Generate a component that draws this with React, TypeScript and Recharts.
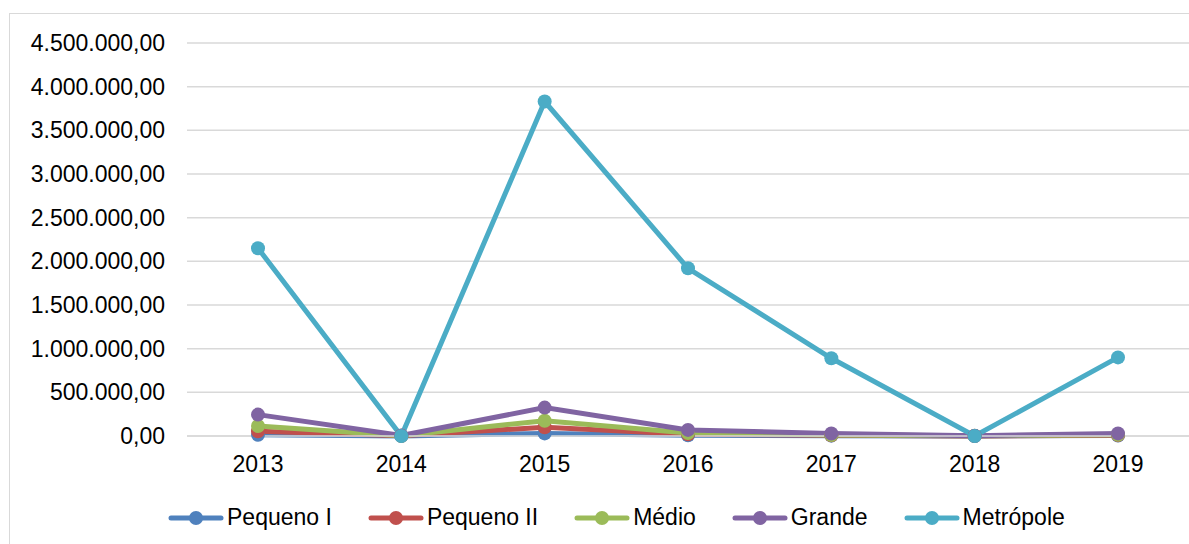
import React from "react";
import {
  LineChart,
  Line,
  XAxis,
  YAxis,
  CartesianGrid,
} from "recharts";

const years = ["2013", "2014", "2015", "2016", "2017", "2018", "2019"];
const pequenoI = [15000, 1000, 30000, 8000, 4000, 500, 5000];
const pequenoII = [55000, 2000, 100000, 20000, 8000, 1000, 10000];
const medio = [115000, 3000, 175000, 35000, 12000, 2000, 15000];
const grande = [245000, 5000, 325000, 70000, 28000, 3000, 30000];
const metropole = [2150000, 0, 3830000, 1920000, 890000, 0, 900000];
const yTicks = [0, 500000, 1000000, 1500000, 2000000, 2500000, 3000000, 3500000, 4000000, 4500000];

const series = [
  { key: "pequenoI", name: "Pequeno I", color: "#4f81bd" },
  { key: "pequenoII", name: "Pequeno II", color: "#c0504d" },
  { key: "medio", name: "Médio", color: "#9bbb59" },
  { key: "grande", name: "Grande", color: "#8064a2" },
  { key: "metropole", name: "Metrópole", color: "#4bacc6" },
];

const data = years.map((year, i) => ({
  year,
  pequenoI: pequenoI[i],
  pequenoII: pequenoII[i],
  medio: medio[i],
  grande: grande[i],
  metropole: metropole[i],
}));

// 4500000 -> "4.500.000,00"
function formatBR(v: number) {
  const int = Math.floor(v).toString().replace(/\B(?=(\d{3})+(?!\d))/g, ".");
  return int + ",00";
}

const FONT = "'Liberation Sans', Arial, sans-serif";
const FS = 23;

function LegendRow() {
  return (
    <div
      style={{
        position: "absolute",
        left: 168,
        top: 504,
        display: "flex",
        alignItems: "center",
        fontFamily: FONT,
        fontSize: FS,
        color: "#000",
        whiteSpace: "nowrap",
      }}
    >
      {series.map((s) => (
        <div key={s.key} style={{ display: "flex", alignItems: "center", marginRight: 36 }}>
          <svg width={56} height={16}>
            <line x1={3} y1={8} x2={53} y2={8} stroke={s.color} strokeWidth={5} strokeLinecap="round" />
            <circle cx={28} cy={8} r={7} fill={s.color} />
          </svg>
          <span style={{ marginLeft: 3 }}>{s.name}</span>
        </div>
      ))}
    </div>
  );
}

export default function App() {
  return (
    <div
      style={{
        position: "fixed",
        left: 0,
        top: 0,
        width: 1189,
        height: 544,
        overflow: "hidden",
        background: "#fff",
      }}
    >
      <div
        style={{
          position: "absolute",
          left: 9,
          top: 13,
          width: 1300,
          height: 700,
          border: "1.5px solid #d9d9d9",
        }}
      />
      <div style={{ position: "absolute", left: 0, top: 0 }}>
        <LineChart
          width={1189}
          height={544}
          data={data}
          margin={{ top: 43, right: 0, bottom: 68, left: 0 }}
        >
          <CartesianGrid vertical={false} stroke="#d9d9d9" strokeWidth={1.5} />
          <XAxis
            dataKey="year"
            padding={{ left: 71, right: 71 }}
            axisLine={{ stroke: "#d9d9d9", strokeWidth: 1.5 }}
            tickLine={false}
            tickMargin={14}
            height={40}
            tick={{ fill: "#000", fontSize: FS, fontFamily: FONT }}
          />
          <YAxis
            domain={[0, 4500000]}
            ticks={yTicks}
            width={187}
            axisLine={false}
            tickLine={false}
            tickMargin={16}
            tickFormatter={formatBR}
            tick={{ fill: "#000", fontSize: FS, fontFamily: FONT }}
          />
          {series.map((s) => (
            <Line
              key={s.key}
              dataKey={s.key}
              name={s.name}
              type="linear"
              stroke={s.color}
              strokeWidth={5}
              dot={{ r: 7, fill: s.color, stroke: "none" }}
              activeDot={false}
              isAnimationActive={false}
            />
          ))}
        </LineChart>
      </div>
      <LegendRow />
    </div>
  );
}
